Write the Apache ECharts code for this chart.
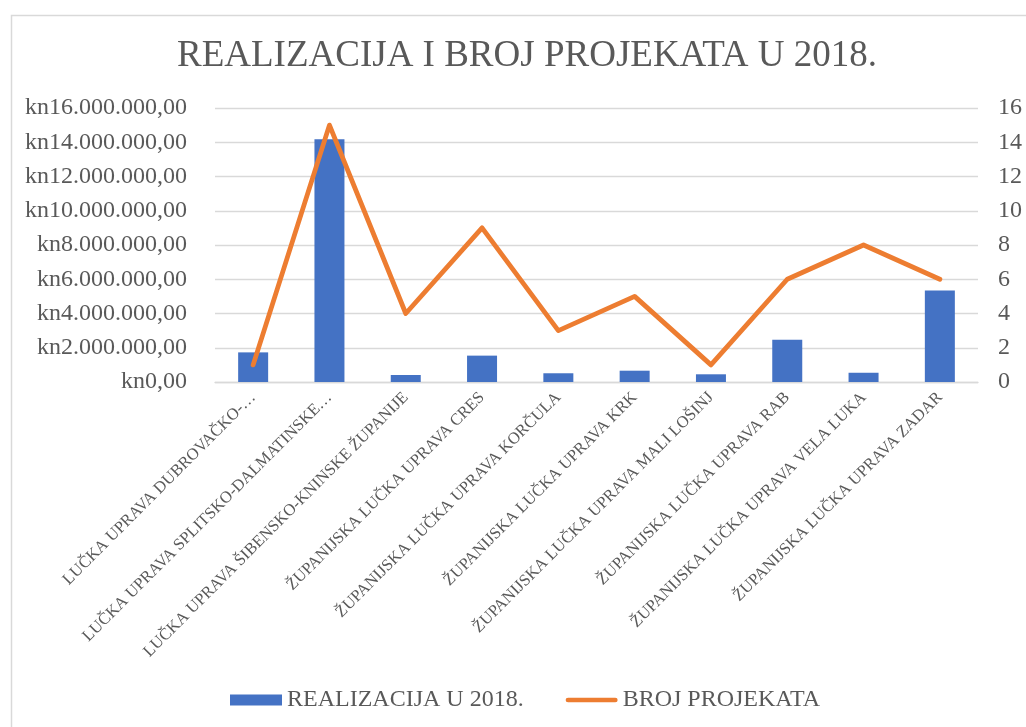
<!DOCTYPE html>
<html>
<head>
<meta charset="utf-8">
<title>Realizacija i broj projekata u 2018.</title>
<script src="https://cdn.jsdelivr.net/npm/echarts@6/dist/echarts.min.js"></script>
<style>
  html, body { margin: 0; padding: 0; background: #ffffff; }
  #chart { width: 1026px; height: 727px; }
</style>
</head>
<body>
<div id="chart"></div>
<script>
// Podaci ocitani sa slike
const categories = [
  "LUČKA UPRAVA DUBROVAČKO-…",
  "LUČKA UPRAVA SPLITSKO-DALMATINSKE…",
  "LUČKA UPRAVA ŠIBENSKO-KNINSKE ŽUPANIJE",
  "ŽUPANIJSKA LUČKA UPRAVA CRES",
  "ŽUPANIJSKA LUČKA UPRAVA KORČULA",
  "ŽUPANIJSKA LUČKA UPRAVA KRK",
  "ŽUPANIJSKA LUČKA UPRAVA MALI LOŠINJ",
  "ŽUPANIJSKA LUČKA UPRAVA RAB",
  "ŽUPANIJSKA LUČKA UPRAVA VELA LUKA",
  "ŽUPANIJSKA LUČKA UPRAVA ZADAR"
];
const realizacija = [1730000, 14170000, 410000, 1540000, 510000, 660000, 450000, 2470000, 540000, 5350000];
const brojProjekata = [1, 15, 4, 9, 3, 5, 1, 6, 8, 6];

const TITLE = "REALIZACIJA I BROJ PROJEKATA U 2018.";
const SERIES_NAMES = ["REALIZACIJA U 2018.", "BROJ PROJEKATA"];

const FONT = "'Liberation Serif', 'Times New Roman', serif";
const TEXT_COLOR = "#595959";
const GRID_COLOR = "#d9d9d9";

// kn format: tocka za tisucice, zarez za decimale
function formatKn(v) {
  const whole = Math.round(v).toString().replace(/\B(?=(\d{3})+(?!\d))/g, ".");
  return "kn" + whole + ",00";
}

const chart = echarts.init(document.getElementById("chart"));

chart.setOption({
  animation: false,
  backgroundColor: "#ffffff",
  textStyle: { fontFamily: FONT, color: TEXT_COLOR },
  graphic: [{
    type: "rect",
    left: 9,
    top: 13,
    shape: { width: 1040, height: 740 },
    style: { fill: "none", stroke: GRID_COLOR, lineWidth: 1.5 },
    silent: true
  }],
  title: {
    text: TITLE,
    left: 172,
    top: 33,
    textStyle: { fontFamily: FONT, fontSize: 37, fontWeight: "normal", color: TEXT_COLOR }
  },
  legend: {
    left: 225,
    top: 683,
    itemWidth: 52,
    itemHeight: 11,
    itemGap: 42,
    textStyle: { fontFamily: FONT, fontSize: 24, color: TEXT_COLOR },
    data: [
      { name: SERIES_NAMES[0], icon: "rect" },
      { name: SERIES_NAMES[1], icon: "path://M2.5,0 L52.5,0 A2.5,2.5 0 0 1 52.5,5 L2.5,5 A2.5,2.5 0 0 1 2.5,0 Z" }
    ]
  },
  grid: { left: 215, right: 48, top: 108, bottom: 345 },
  xAxis: {
    type: "category",
    data: categories,
    axisLine: { lineStyle: { color: GRID_COLOR, width: 1.3 } },
    axisTick: { show: false },
    axisLabel: {
      interval: 0,
      rotate: 45,
      margin: 13,
      fontFamily: FONT,
      fontSize: 16.5,
      color: TEXT_COLOR
    }
  },
  yAxis: [
    {
      type: "value",
      min: 0,
      max: 16000000,
      interval: 2000000,
      axisLine: { show: false },
      axisTick: { show: false },
      splitLine: { lineStyle: { color: GRID_COLOR, width: 1.3 } },
      axisLabel: { margin: 28, fontFamily: FONT, fontSize: 24, color: TEXT_COLOR, formatter: formatKn }
    },
    {
      type: "value",
      min: 0,
      max: 16,
      interval: 2,
      axisLine: { show: false },
      axisTick: { show: false },
      splitLine: { show: false },
      axisLabel: { margin: 20, fontFamily: FONT, fontSize: 24, color: TEXT_COLOR }
    }
  ],
  series: [
    {
      name: SERIES_NAMES[0],
      type: "bar",
      yAxisIndex: 0,
      barWidth: 30,
      itemStyle: { color: "#4472c4" },
      data: realizacija
    },
    {
      name: SERIES_NAMES[1],
      type: "line",
      yAxisIndex: 1,
      showSymbol: false,
      symbol: "none",
      itemStyle: { color: "#ed7d31" },
      lineStyle: { color: "#ed7d31", width: 4.8, cap: "round", join: "round" },
      data: brojProjekata
    }
  ]
});
</script>
</body>
</html>
